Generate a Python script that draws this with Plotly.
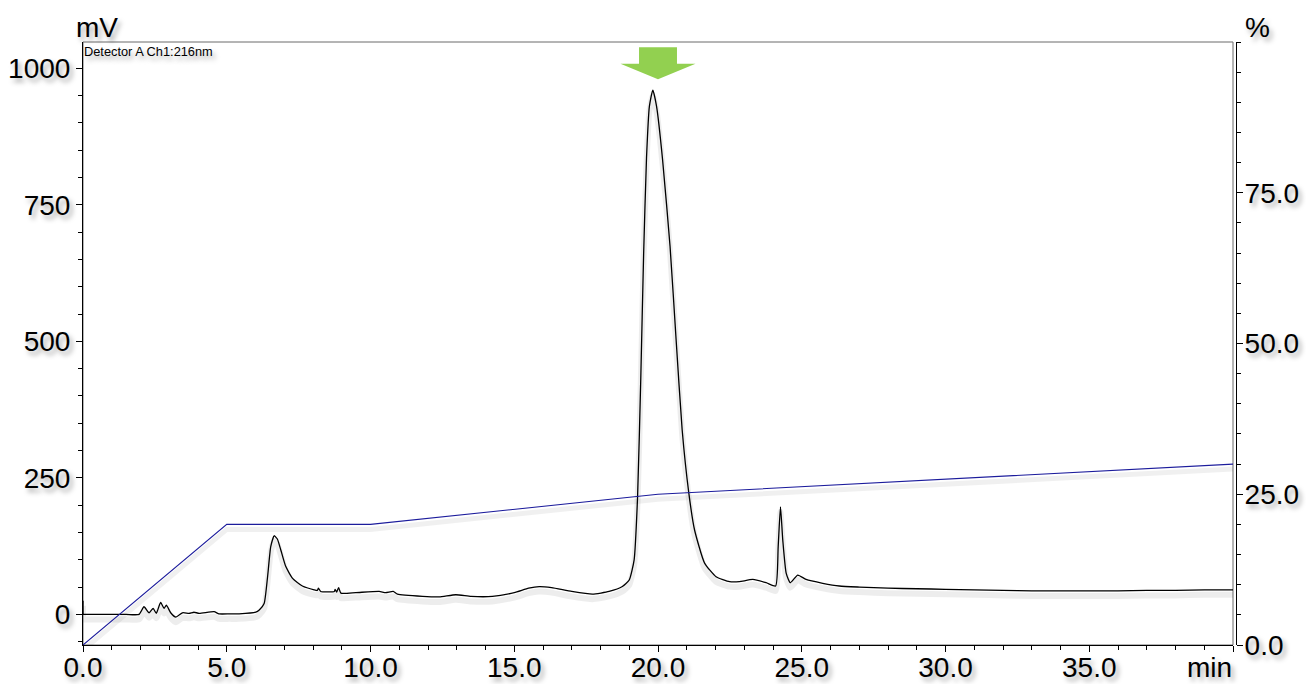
import plotly.graph_objects as go

# Chromatogram, detector A ch1 (216 nm): retention time (min) vs signal (mV)
time_min = [
    0.00, 0.01, 0.03, 0.50, 1.00, 1.50, 1.95, 2.12, 2.30, 2.44, 2.55, 2.70,
    2.82, 2.90, 3.05, 3.23, 3.46, 3.69, 3.86, 4.04, 4.56, 4.73, 5.10, 5.43,
    6.01, 6.13, 6.30, 6.42, 6.53, 6.65, 6.76, 6.88, 7.05, 7.29, 7.63, 8.04,
    8.15, 8.19, 8.27, 8.74, 8.77, 8.82, 8.89, 8.97, 9.49, 10.30, 10.53,
    10.79, 10.94, 11.81, 12.39, 12.97, 13.50, 14.24, 15.00, 15.50, 15.87,
    16.30, 17.00, 17.72, 18.30, 18.76, 19.00, 19.17, 19.29, 19.40, 19.50,
    19.60, 19.70, 19.82, 19.95, 20.16, 20.42, 20.63, 20.84, 21.07, 21.27,
    21.62, 22.02, 22.49, 22.83, 23.30, 23.76, 24.09, 24.18, 24.26, 24.34,
    24.46, 24.60, 24.86, 25.15, 25.73, 26.31, 27.01, 28.00, 29.00, 30.00,
    31.00, 32.00, 33.00, 34.00, 35.00, 36.00, 37.00, 38.00, 39.00, 40.00,
]
signal_mv = [
    25, 0, 0, 0, 0, 0, 0, 14, 3, 11, 2, 22,
    11, 17, 3, -5, 3, 2, 4, 2, 5, 1, 1, 1,
    4, 8, 20, 69, 124, 144, 138, 118, 88, 66, 52, 45,
    44, 48, 42, 42, 46, 41, 49, 39, 40, 42, 40,
    42, 37, 33, 32, 36, 33, 33, 40, 48, 51,
    49, 42, 37, 42, 51, 63, 100, 216, 430, 660,
    835, 930, 960, 930, 832, 673, 503, 338, 223, 155,
    94, 69, 60, 60, 64, 58, 52, 124, 197, 136,
    75, 58, 72, 64, 57, 52, 50, 48, 47, 46,
    45, 44, 43, 43, 43, 43, 44, 44, 45, 45,
]

# Mobile phase gradient program (%B)
gradient_time_min = [0, 5, 10, 20, 40]
gradient_pct = [0, 20, 20, 25, 30]

# Axis ticks and labels
x_ticks = [0, 5, 10, 15, 20, 25, 30, 35, 40]
x_tick_text = ["0.0", "5.0", "10.0", "15.0", "20.0", "25.0", "30.0", "35.0", ""]
mv_ticks = [0, 250, 500, 750, 1000]
mv_tick_text = ["0", "250", "500", "750", "1000"]
pct_ticks = [0, 25, 50, 75]
pct_tick_text = ["0.0", "25.0", "50.0", "75.0"]

# Retention time marked by the arrow
target_peak_min = 20.0

MV_RANGE = [-56, 1048]
PCT_RANGE = [0, 100]
X_RANGE = [0, 40]

W, H = 1306, 684
M_L, M_R, M_T, M_B = 83, 70, 42, 39
PLOT_W = W - M_L - M_R
PLOT_H = H - M_T - M_B
FRAME_W = 1150  # data frame width; the % axis sits just outside it

# drop shadow offset for the traces (pixels)
SHADOW_PX = 5
mv_off = SHADOW_PX * (MV_RANGE[1] - MV_RANGE[0]) / PLOT_H
pct_off = SHADOW_PX * (PCT_RANGE[1] - PCT_RANGE[0]) / PLOT_H

FONT = "Liberation Sans, Arial, Helvetica, sans-serif"
TEXT_SHADOW = "3px 4px 5px rgba(0,0,0,0.35)"
tick_font = dict(family=FONT, size=28, color="black", shadow=TEXT_SHADOW)

fig = go.Figure()

line_shape = dict(shape="spline", smoothing=0.5)

# soft shadows underneath the traces
fig.add_trace(go.Scatter(
    x=time_min, y=signal_mv, mode="lines", yaxis="y", hoverinfo="skip",
    line=dict(color="rgba(0,0,0,0.07)", width=6, **line_shape),
    showlegend=False))
fig.add_trace(go.Scatter(
    x=gradient_time_min, y=gradient_pct, mode="lines", yaxis="y2", hoverinfo="skip",
    line=dict(color="rgba(0,0,0,0.06)", width=5), showlegend=False))

# signal and gradient
fig.add_trace(go.Scatter(
    x=time_min, y=signal_mv, mode="lines", yaxis="y3", name="Detector A Ch1:216nm",
    line=dict(color="black", width=1.3, **line_shape),
    showlegend=False))
fig.add_trace(go.Scatter(
    x=gradient_time_min, y=gradient_pct, mode="lines", yaxis="y4", name="%B",
    line=dict(color="#1c1c9c", width=1.1), showlegend=False))

axis_common = dict(
    showgrid=False, zeroline=False, showline=True, linecolor="black", linewidth=1,
    ticks="outside", tickcolor="black", ticklen=6, tickwidth=1, tickfont=tick_font,
    automargin=False,
)

# green arrow pointing at the main peak
rect_hw, head_hw = 0.66, 1.305
y_top, y_neck, y_tip = 1038.5, 1008.0, 980.0
arrow_path = (
    f"M {target_peak_min - rect_hw},{y_top} L {target_peak_min + rect_hw},{y_top} "
    f"L {target_peak_min + rect_hw},{y_neck} L {target_peak_min + head_hw},{y_neck} "
    f"L {target_peak_min},{y_tip} L {target_peak_min - head_hw},{y_neck} "
    f"L {target_peak_min - rect_hw},{y_neck} Z"
)

fig.update_layout(
    width=W, height=H,
    margin=dict(l=M_L, r=M_R, t=M_T, b=M_B, autoexpand=False),
    paper_bgcolor="white", plot_bgcolor="white",
    xaxis=dict(
        **axis_common, domain=[0, FRAME_W / PLOT_W], range=X_RANGE, anchor="y",
        tickmode="array", tickvals=x_ticks, ticktext=x_tick_text,
        ticklabelstandoff=-9,
        minor=dict(dtick=1, tick0=0, ticks="outside", ticklen=4, tickcolor="black"),
    ),
    yaxis=dict(range=[MV_RANGE[0] + mv_off, MV_RANGE[1] + mv_off], visible=False,
               anchor="x", automargin=False),
    yaxis2=dict(range=[PCT_RANGE[0] + pct_off, PCT_RANGE[1] + pct_off], visible=False,
                overlaying="y", anchor="x", automargin=False),
    yaxis3=dict(
        **axis_common, range=MV_RANGE, overlaying="y", side="left", anchor="x",
        tickmode="array", tickvals=mv_ticks, ticktext=mv_tick_text,
        minor=dict(dtick=50, tick0=0, ticks="outside", ticklen=4, tickcolor="black"),
    ),
    yaxis4=dict(
        **axis_common, range=PCT_RANGE, overlaying="y", side="right",
        anchor="free", position=1, ticklabelstandoff=-4,
        tickmode="array", tickvals=pct_ticks, ticktext=pct_tick_text,
        minor=dict(dtick=5, tick0=0, ticks="outside", ticklen=4, tickcolor="black"),
    ),
    shapes=[
        dict(type="rect", xref="x domain", yref="y domain", x0=0, x1=1, y0=0, y1=1,
             line=dict(color="#6a6a6a", width=1), layer="below"),
        dict(type="path", xref="x", yref="y3", path=arrow_path,
             fillcolor="#92d050", line=dict(width=0)),
    ],
    annotations=[
        dict(text="Detector A Ch1:216nm", xref="x domain", yref="y domain",
             x=0, y=1, xanchor="left", yanchor="top", showarrow=False,
             borderpad=0, yshift=-1,
             font=dict(family=FONT, size=12.8, color="black", shadow=TEXT_SHADOW)),
        dict(text="mV", xref="x domain", yref="y domain", x=0, y=1,
             xanchor="center", yanchor="middle", xshift=14, yshift=15,
             showarrow=False, font=tick_font),
        dict(text="%", xref="paper", yref="y domain", x=1, y=1,
             xanchor="center", yanchor="middle", xshift=21, yshift=15,
             showarrow=False, font=tick_font),
        dict(text="min", xref="x domain", yref="y domain", x=1, y=0,
             xanchor="right", yanchor="middle", xshift=1, yshift=-22,
             showarrow=False, font=tick_font),
    ],
)

fig.write_html("out.html")
